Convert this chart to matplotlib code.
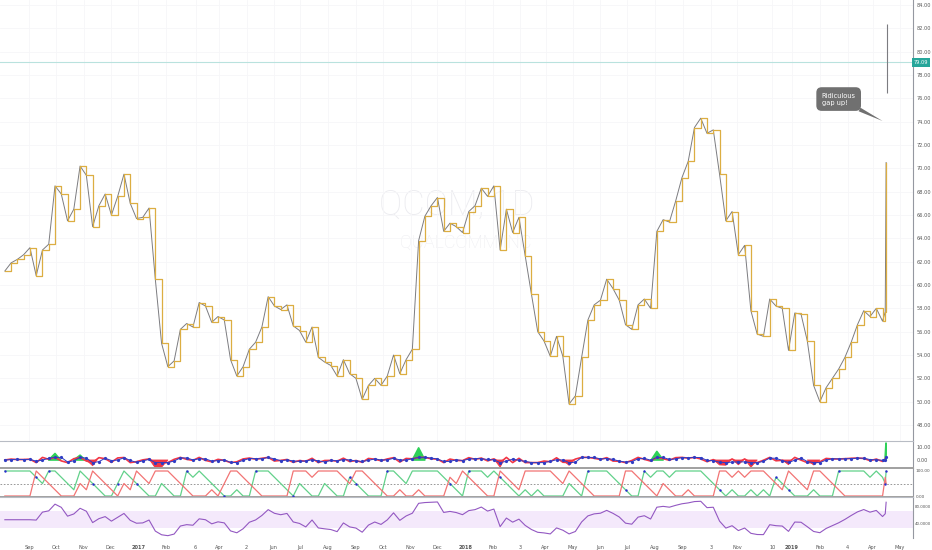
import numpy as np
import pandas as pd
import matplotlib
matplotlib.use("Agg")
from matplotlib import pyplot as plt

# weekly closes (Fridays from 2016-08-05)
week_start = "2016-08-05"
weekly_close = [
    61.2, 61.9, 62.2, 62.6, 63.2, 60.8, 63.0, 63.5, 68.5, 67.8,
    65.5, 66.5, 70.2, 69.4, 65.0, 66.8, 67.8, 66.0, 67.6, 69.5,
    67.0, 65.7, 65.8, 66.6, 60.5, 55.0, 53.0, 53.5, 56.2, 56.7,
    56.4, 58.5, 58.2, 56.8, 57.3, 57.0, 53.6, 52.2, 53.0, 54.5,
    55.1, 56.4, 59.0, 58.2, 57.9, 58.3, 56.5, 56.1, 55.1, 56.4,
    53.8, 53.4, 53.1, 52.2, 53.6, 52.4, 52.0, 50.2, 51.4, 52.0,
    51.4, 52.2, 54.0, 52.4, 53.6, 54.5, 63.8, 65.9, 66.8, 67.5,
    64.6, 65.3, 65.0, 64.5, 66.3, 66.8, 68.3, 67.6, 68.5, 63.0,
    66.5, 64.5, 65.8, 62.5, 59.2, 56.0, 55.2, 53.9, 55.6, 53.9,
    49.8, 50.5, 53.8, 57.0, 58.3, 58.7, 60.5, 59.7, 58.7, 56.6,
    56.2, 58.3, 58.8, 58.0, 64.6, 65.6, 65.4, 67.2, 69.2, 70.6,
    73.5, 74.3, 73.0, 73.3, 69.5, 65.5, 66.3, 62.6, 63.4, 57.8,
    55.8, 55.6, 58.8, 58.2, 58.0, 54.4, 57.6, 57.5, 55.2, 51.4,
    50.0, 51.2, 52.0, 52.8, 53.8, 55.1, 56.6, 57.8, 57.3, 58.0, 56.9,
]
# the last daily bars before the gap
tail_dates = ["2019-04-15", "2019-04-16"]
tail_close = [57.7, 70.5]
# the gap-up bar
last_date = "2019-04-17"
last_high = 82.4
last_low = 76.5
last_close = 79.09

price_ticks = [48, 50, 52, 54, 56, 58, 60, 62, 64, 66, 68, 70, 72, 74, 76, 78, 80, 82, 84]
month_ticks = ["2016-09-01", "2016-10-01", "2016-11-01", "2016-12-01", "2017-01-01",
               "2017-02-01", "2017-03-06", "2017-04-01", "2017-05-02", "2017-06-01",
               "2017-07-01", "2017-08-01", "2017-09-01", "2017-10-01", "2017-11-01",
               "2017-12-01", "2018-01-01", "2018-02-01", "2018-03-03", "2018-04-01",
               "2018-05-01", "2018-06-01", "2018-07-01", "2018-08-01", "2018-09-01",
               "2018-10-03", "2018-11-01", "2018-12-10", "2019-01-01", "2019-02-01",
               "2019-03-04", "2019-04-01", "2019-05-01"]
month_labels = ["Sep", "Oct", "Nov", "Dec", "2017", "Feb", "6", "Apr", "2", "Jun",
                "Jul", "Aug", "Sep", "Oct", "Nov", "Dec", "2018", "Feb", "3", "Apr",
                "May", "Jun", "Jul", "Aug", "Sep", "3", "Nov", "10", "2019", "Feb",
                "4", "Apr", "May"]

dates = list(pd.date_range(week_start, periods=len(weekly_close), freq="7D")) + list(pd.to_datetime(tail_dates))
close = pd.Series(weekly_close + tail_close, index=dates)

W, H = 932, 550
fig = plt.figure(figsize=(W / 100, H / 100), dpi=100)
plt.rcParams['font.family'] = ['DejaVu Sans']


def box(top, bottom):
    return [0, 1 - bottom / H, 913 / W, (bottom - top) / H]


ax = fig.add_axes(box(0, 441))
ax1 = fig.add_axes(box(441, 468), sharex=ax)
ax2 = fig.add_axes(box(468, 497), sharex=ax)
ax3 = fig.add_axes(box(497, 538), sharex=ax)

axis_col = "#9598a1"
for a in (ax, ax1, ax2, ax3):
    a.yaxis.tick_right()
    a.tick_params(axis="both", length=0, labelsize=3.6, labelcolor="#555555", pad=2.5)
    a.spines["left"].set_visible(False)
    a.spines["bottom"].set_visible(False)
    a.spines["top"].set_color("#b8bcc4")
    a.spines["top"].set_linewidth(0.8)
    a.spines["right"].set_color(axis_col)
    a.spines["right"].set_linewidth(0.8)
    a.set_facecolor("white")
ax.spines["top"].set_visible(False)
ax2.spines["top"].set_color("#a0a0a0")
ax2.spines["top"].set_linewidth(1.4)
ax2.spines["bottom"].set_visible(True)
ax2.spines["bottom"].set_color("#a0a0a0")
ax2.spines["bottom"].set_linewidth(1.4)
ax2.tick_params(axis="y", labelsize=3.1, pad=2)
ax3.tick_params(axis="y", labelsize=2.9, pad=1.5)

ax.set_xlim(pd.Timestamp("2016-07-30 14:00"), pd.Timestamp("2019-05-16"))
mt = pd.to_datetime(month_ticks)
ax.set_xticks(mt)

# main price panel
ax.set_ylim(46.63, 84.43)
ax.set_yticks(price_ticks)
ax.set_yticklabels([f"{v:.2f}" for v in price_ticks])
ax.grid(True, color="#f6f6f8", lw=0.6)
ax.set_axisbelow(True)
for a in (ax, ax1, ax2):
    a.tick_params(labelbottom=False)

ax.text(0.5, 0.535, "QCOM, 1D", transform=ax.transAxes, ha="center", va="center",
        fontsize=25, color="#ececf0", family="Roboto", weight="light", zorder=0)
ax.text(0.51, 0.449, "QUALCOMM INC", transform=ax.transAxes, ha="center", va="center",
        fontsize=13, color="#ececf0", family="Roboto", weight="light", zorder=0)

ax.axhline(last_close, color="#b9e2de", lw=0.8, zorder=1)
ax.plot(close.index, close.values, color="#7c7c80", lw=0.7, zorder=2)
ax.step(close.index, close.values, where="post", color="#dcae42", lw=0.9, zorder=3)
ax.vlines(pd.Timestamp(last_date), last_low, last_high, color="#7c7c80", lw=0.8, zorder=2)

ax.text(1.001, last_close, f"{last_close:.2f}", transform=ax.get_yaxis_transform(),
        ha="left", va="center", fontsize=3.6, color="white", clip_on=False,
        bbox=dict(boxstyle="square,pad=0.35", fc="#26a69a", ec="none"))

ax.annotate("Ridiculous\ngap up!", xy=(pd.Timestamp("2019-04-12"), 74.06),
            xytext=(pd.Timestamp("2019-02-22"), 75.94), ha="center", va="center",
            multialignment="left", fontsize=4.8, color="white",
            bbox=dict(boxstyle="round,pad=0.8", fc="#707070", ec="none"),
            arrowprops=dict(arrowstyle="wedge,tail_width=0.6", fc="#707070", ec="none",
                            shrinkA=0, shrinkB=0))

# momentum panel
hist = close.diff().fillna(0)
hist_blue = hist.rolling(2, min_periods=1).mean()
ax1.set_ylim(-6.15, 14.6)
ax1.fill_between(close.index, 0, hist, where=hist > 3.5, color="#2ed158", ec="#2ed158",
                 lw=1.2, interpolate=True)
ax1.fill_between(close.index, 0, hist, where=hist < -3.5, color="#f23645", ec="#f23645",
                 lw=0.6, interpolate=True)
ax1.plot(close.index, hist.clip(-2, 2), color="#f23645", lw=1.2)
ax1.plot(close.index, hist_blue.clip(-2, 2), color="#2f3cc4", lw=0.7, marker="o", ms=1.3)
ax1.set_yticks([0, 10])
ax1.set_yticklabels(["0.00", "10.00"])

# aroon-style oscillator
n = 4
up = close.rolling(n + 1).apply(lambda w: 100 * np.argmax(w) / n, raw=True).bfill()
down = close.rolling(n + 1).apply(lambda w: 100 * np.argmin(w) / n, raw=True).bfill()
ax2.set_ylim(-4, 112)
ax2.axhline(50, color="#888888", lw=0.6, ls=(0, (2, 2)))
ax2.plot(close.index, up, color="#62d18a", lw=0.9)
ax2.plot(close.index, down, color="#f27474", lw=0.9)
diff_sign = np.sign(up - down)
cross = diff_sign.ne(diff_sign.shift()) & (diff_sign != 0)
ax2.scatter(close.index[cross.values], up[cross.values], s=3, color="#2b2bd0", zorder=4, lw=0)
ax2.set_yticks([0, 100])
ax2.set_yticklabels(["0.00", "100.00"])

# rsi panel
delta = close.diff()
gain = delta.clip(lower=0).ewm(alpha=1 / 5, adjust=False).mean()
loss = (-delta.clip(upper=0)).ewm(alpha=1 / 5, adjust=False).mean()
rsi = (100 - 100 / (1 + gain / loss.replace(0, np.nan))).fillna(50)
ax3.set_ylim(7, 103.5)
ax3.axhspan(30, 70, color="#f4e9fb", lw=0)
ax3.plot(close.index, rsi, color="#9358c2", lw=0.8)
ax3.set_yticks([40, 80])
ax3.set_yticklabels(["40.0000", "80.0000"])

ax3.set_xticks(mt)
ax3.set_xticklabels(month_labels)
ax3.tick_params(axis="x", pad=5)
for lab in ax3.get_xticklabels():
    if lab.get_text().startswith("20"):
        lab.set_fontweight("bold")

fig.savefig("out.png", dpi=100, facecolor="white")
